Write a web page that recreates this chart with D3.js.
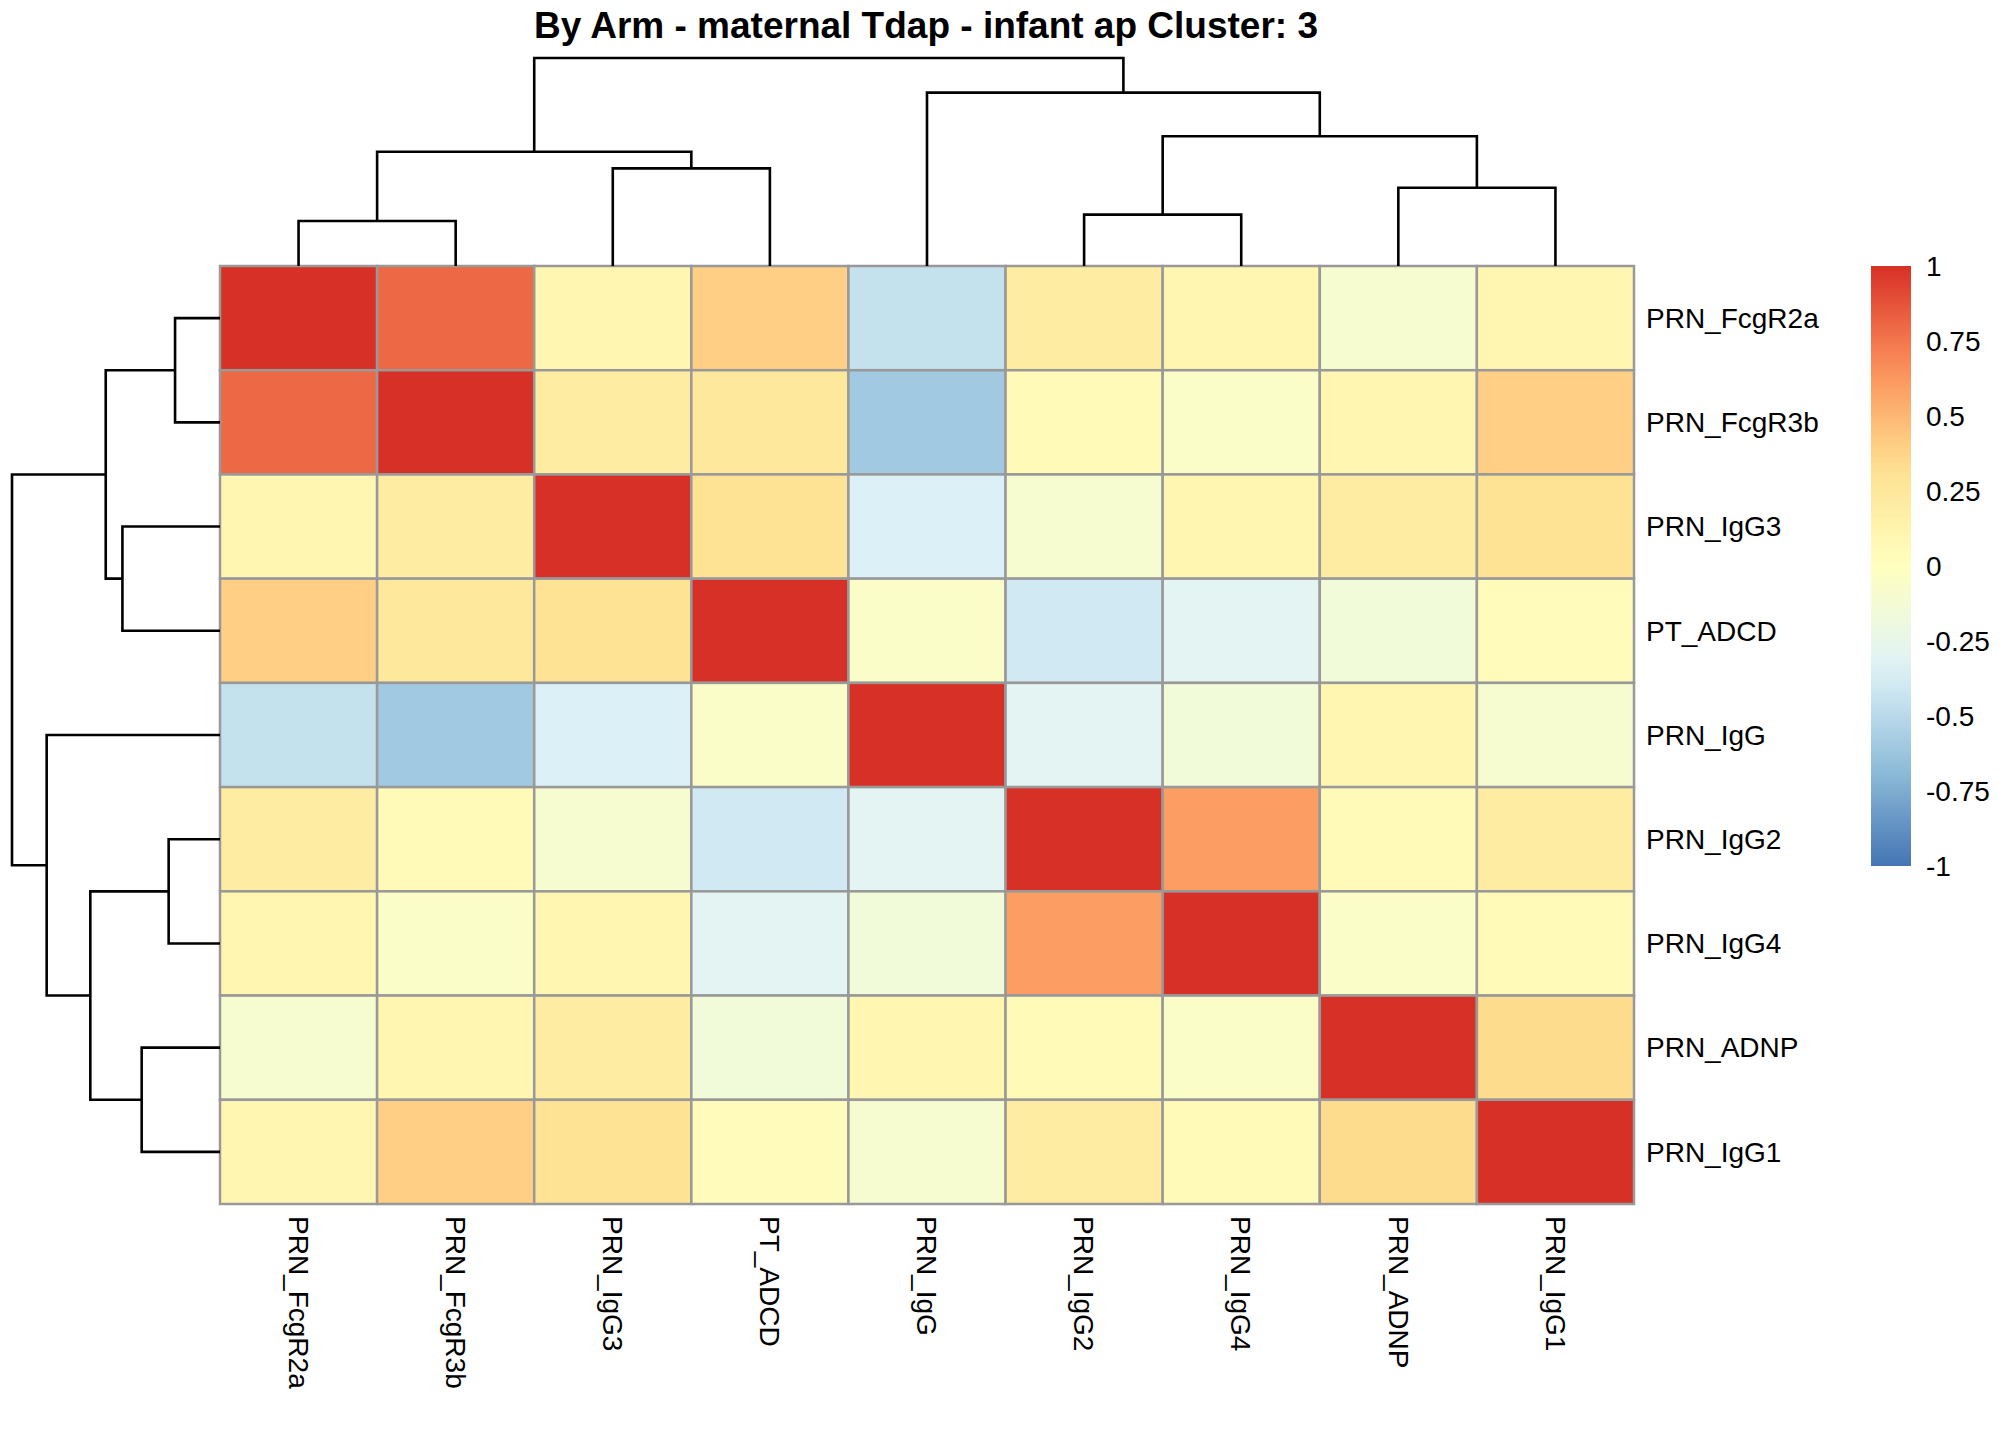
<!DOCTYPE html>
<html><head><meta charset="utf-8">
<script src="https://cdn.jsdelivr.net/npm/d3@7"></script>
<style>body{margin:0;background:#fff}text{font-family:"Liberation Sans",Arial,sans-serif}</style>
</head><body><svg id="chart" width="2016" height="1440"></svg>
<script>
const labels = ["PRN_FcgR2a","PRN_FcgR3b","PRN_IgG3","PT_ADCD","PRN_IgG","PRN_IgG2","PRN_IgG4","PRN_ADNP","PRN_IgG1"];
const values = [
  [1, 0.8, 0.1, 0.4, -0.45, 0.2, 0.1, -0.1, 0.1],
  [0.8, 1, 0.2, 0.25, -0.6, 0.05, -0.05, 0.1, 0.4],
  [0.1, 0.2, 1, 0.3, -0.35, -0.1, 0.1, 0.2, 0.3],
  [0.4, 0.25, 0.3, 1, -0.05, -0.4, -0.3, -0.15, 0.03],
  [-0.45, -0.6, -0.35, -0.05, 1, -0.3, -0.15, 0.1, -0.1],
  [0.2, 0.05, -0.1, -0.4, -0.3, 1, 0.6, 0.05, 0.2],
  [0.1, -0.05, 0.1, -0.3, -0.15, 0.6, 1, -0.05, 0.05],
  [-0.1, 0.1, 0.2, -0.15, 0.1, 0.05, -0.05, 1, 0.35],
  [0.1, 0.4, 0.3, 0.03, -0.1, 0.2, 0.05, 0.35, 1]
];
// dendrogram merges: [child, child, height]
const tree = {h:162, c:[
  {h:89, c:[{h:35, c:["PRN_FcgR2a","PRN_FcgR3b"]},{h:76, c:["PRN_IgG3","PT_ADCD"]}]},
  {h:135, c:["PRN_IgG", {h:101, c:[{h:40, c:["PRN_IgG2","PRN_IgG4"]},{h:61, c:["PRN_ADNP","PRN_IgG1"]}]}]}
]};
const legendTicks = [1,0.75,0.5,0.25,0,-0.25,-0.5,-0.75,-1];

const svg = d3.select("#chart");
const L = 220, T = 266, W = 1414, H = 938;
const x = d3.scaleBand().domain(labels).range([L, L+W]);
const y = d3.scaleBand().domain(labels).range([T, T+H]);
const pal = ["#4575b4","#91bfdb","#e0f3f8","#ffffbf","#fee090","#fc8d59","#d73027"];
const color = d3.scaleLinear().domain(d3.range(7).map(i => -1 + i/3)).range(pal);

svg.append("text").attr("x", 926).attr("y", 38).attr("text-anchor","middle")
  .attr("font-size", 37).attr("font-weight","bold").text("By Arm - maternal Tdap - infant ap  Cluster: 3");

labels.forEach((r, i) => labels.forEach((c, j) => {
  svg.append("rect").attr("x", x(c)).attr("y", y(r)).attr("width", x.bandwidth()).attr("height", y.bandwidth())
    .attr("fill", color(values[i][j])).attr("stroke","#999").attr("stroke-width",2.5);
}));

labels.forEach(r => svg.append("text").attr("x", L+W+12).attr("y", y(r)+y.bandwidth()/2)
  .attr("dy","0.35em").attr("font-size",28).text(r));
labels.forEach(c => svg.append("text").attr("transform", `translate(${x(c)+x.bandwidth()/2},${T+H+12}) rotate(90)`)
  .attr("dy","0.35em").attr("font-size",28).text(c));

// dendrograms
const hs = d3.scaleLinear().domain([0,162]).range([0,208]);
function draw(node, pos, toPt) {
  if (typeof node === "string") return {p: pos(node), h: 0};
  const a = draw(node.c[0], pos, toPt), b = draw(node.c[1], pos, toPt);
  const p = [[a.p,a.h],[a.p,node.h],[b.p,node.h],[b.p,b.h]].map(toPt);
  svg.append("path").attr("d", d3.line()(p)).attr("fill","none").attr("stroke","#000").attr("stroke-width",2.6);
  return {p: (a.p+b.p)/2, h: node.h};
}
draw(tree, c => x(c)+x.bandwidth()/2, ([p,h]) => [p, T - hs(h)]);
draw(tree, r => y(r)+y.bandwidth()/2, ([p,h]) => [L - hs(h), p]);

// legend
const ly = d3.scaleLinear().domain([1,-1]).range([266, 866]);
const grad = svg.append("defs").append("linearGradient").attr("id","g").attr("x1",0).attr("x2",0).attr("y1",0).attr("y2",1);
d3.range(0,1.001,0.05).forEach(t => grad.append("stop").attr("offset", t).attr("stop-color", color(1-2*t)));
svg.append("rect").attr("x",1871).attr("y",266).attr("width",40).attr("height",600).attr("fill","url(#g)");
legendTicks.forEach(v => svg.append("text").attr("x",1926).attr("y",ly(v)).attr("dy","0.35em")
  .attr("font-size",28).text(v));
</script></body></html>
